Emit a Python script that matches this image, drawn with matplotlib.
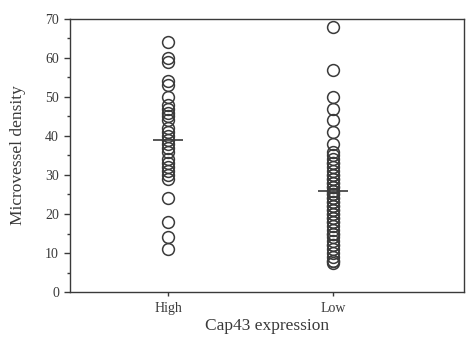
import matplotlib
matplotlib.use("Agg")
import matplotlib.pyplot as plt
from matplotlib.ticker import MultipleLocator

categories = ["High", "Low"]
high_values = [64, 60, 59, 54, 53, 50, 48, 47, 46, 45, 44, 42, 41, 40, 39, 38,
               37, 36, 34, 33, 32, 31, 30, 29, 24, 18, 14, 11]
low_values = [68, 57, 50, 47, 44, 41, 38, 36, 35, 34, 33, 33, 32, 31, 30, 30, 29,
              29, 28, 28, 27, 27, 26, 26, 25, 25, 24, 24, 23, 23, 22, 22, 21, 21,
              20, 20, 19, 19, 18, 18, 17, 16, 15, 15, 14, 13, 12, 12, 11, 10, 9,
              8, 8, 7.5]
means = [39, 26]
yticks = [0, 10, 20, 30, 40, 50, 60, 70]

plt.rcParams['font.family'] = ['Liberation Serif', 'DejaVu Serif']
col = "#3a3a3a"

fig = plt.figure(figsize=(4.67, 3.38), dpi=100)
ax = fig.add_axes([0.150, 0.136, 0.844, 0.808])

positions = [1, 2]
for pos, vals in zip(positions, [high_values, low_values]):
    ax.plot([pos] * len(vals), vals, linestyle="none", marker="o", markersize=8.5,
            markerfacecolor="none", markeredgecolor=col, markeredgewidth=1.1)
for pos, m in zip(positions, means):
    ax.hlines(m, pos - 0.09, pos + 0.09, color=col, linewidth=1.2)

ax.set_xlim(0.404, 2.796)
ax.set_ylim(0, 70)
ax.set_yticks(yticks)
ax.yaxis.set_minor_locator(MultipleLocator(5))
ax.set_xticks(positions)
ax.set_xticklabels(categories)

for s in ax.spines.values():
    s.set_color(col)
    s.set_linewidth(1.0)
ax.tick_params(axis="both", which="major", direction="out", length=4, width=1,
               color=col, labelcolor=col, labelsize=10)
ax.tick_params(axis="y", which="minor", direction="out", length=2.5, width=1, color=col)
ax.tick_params(axis="x", which="major", length=3, pad=4)
ax.tick_params(axis="y", which="major", pad=4)

ax.set_xlabel("Cap43 expression", fontsize=12.5, color=col, labelpad=2)
ax.set_ylabel("Microvessel density", fontsize=12.5, color=col, labelpad=14)

fig.savefig("out.png", dpi=100)
